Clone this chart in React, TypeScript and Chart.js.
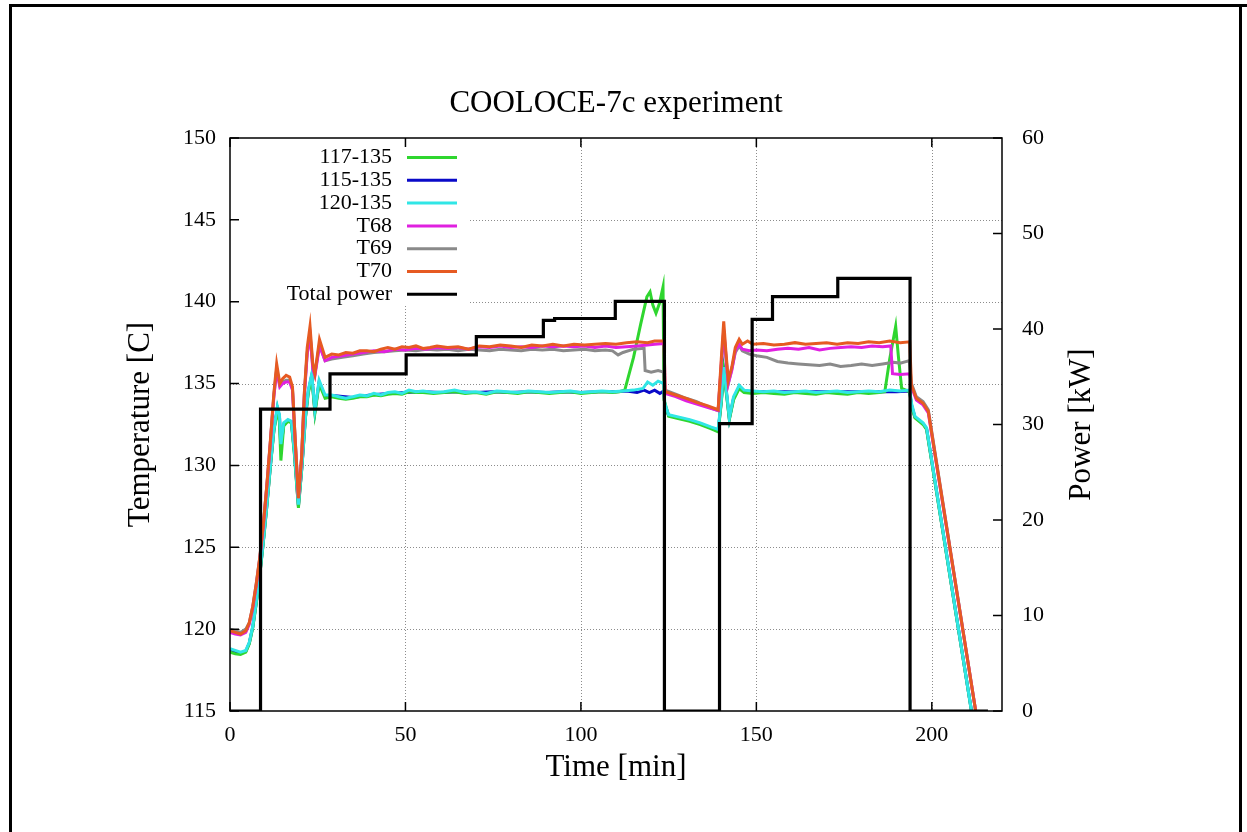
import React, { useEffect, useRef } from "react";
import { Chart, registerables } from "chart.js";

Chart.register(...registerables);

const SERIF = '"Liberation Serif", "Times New Roman", Times, serif';

// Axis ticks
const timeTicks = [0, 50, 100, 150, 200];
const tempTicks = [115, 120, 125, 130, 135, 140, 145, 150];
const powerTicks = [0, 10, 20, 30, 40, 50, 60];

// Legend names and colours (legend order)
const legendNames = ["117-135", "115-135", "120-135", "T68", "T69", "T70", "Total power"];
const legendColors = ["#2fd62f", "#0a0ac8", "#30e6e6", "#e020e0", "#8a8a8a", "#e65a22", "#000000"];

// [time min, temperature C]
const s117_135: number[][] = [[0,118.6],[1.5,118.5],[3,118.45],[4.5,118.6],[5.5,119.1],[6.5,120.1],[7.5,121.6],[8.5,123.3],[9.5,125.3],[10.5,127.5],[11.5,129.9],[12.5,132.1],[13.5,133.4],[14.1,132.6],[14.5,130.3],[15.3,132.4],[16.5,132.7],[17.5,132.6],[18.3,130.8],[19.5,127.4],[20.5,129.9],[21.5,132.9],[22.3,134.4],[23.3,135.4],[24.2,133.2],[25.4,135.0],[27.1,134.1],[29,134.2],[31,134.1],[33,134.05],[35,134.1],[37,134.2],[39,134.2],[41,134.3],[43,134.25],[45,134.35],[47,134.4],[49,134.35],[51,134.5],[53,134.45],[55,134.45],[58,134.4],[61,134.45],[64,134.5],[67,134.4],[70,134.45],[73,134.35],[76,134.5],[79,134.45],[82,134.4],[85,134.5],[88,134.45],[91,134.4],[94,134.45],[97,134.5],[100,134.4],[103,134.45],[106,134.5],[109,134.45],[111,134.5],[112.5,134.6],[115,136.6],[117,138.6],[118.8,140.3],[119.7,140.6],[120.5,139.8],[121.4,139.3],[122.4,139.9],[123.4,140.9],[123.7,134.0],[125,133.0],[128,132.85],[131,132.7],[134,132.5],[137,132.25],[139.1,132.05],[140,133.8],[140.7,135.7],[141.5,134.3],[142.3,132.8],[143.5,134.0],[145.1,134.7],[146.5,134.45],[149,134.4],[152,134.45],[155,134.4],[158,134.35],[161,134.45],[164,134.4],[167,134.35],[170,134.45],[173,134.4],[176,134.35],[179,134.45],[182,134.4],[185,134.45],[186.6,134.5],[188,136.5],[189.7,138.5],[190.5,136.6],[191.4,134.7],[193.7,134.5],[194.2,133.6],[195.2,132.9],[197.5,132.5],[198.5,132.2],[211.3,115.0]];

const s115_135: number[][] = [[0,118.7],[1.5,118.6],[3,118.55],[4.5,118.65],[5.5,119.15],[6.5,120.15],[7.5,121.65],[8.5,123.35],[9.5,125.35],[10.5,127.55],[11.5,129.95],[12.5,132.15],[13.5,133.5],[14.1,133.0],[14.5,131.0],[15.3,132.5],[16.5,132.75],[17.5,132.65],[18.3,130.9],[19.5,127.5],[20.5,129.95],[21.5,132.95],[22.3,134.5],[23.3,135.5],[24.2,133.3],[25.4,135.1],[27.1,134.2],[30,134.25],[35,134.15],[40,134.3],[45,134.4],[50,134.45],[55,134.5],[60,134.45],[65,134.5],[70,134.45],[75,134.5],[80,134.45],[85,134.5],[90,134.45],[95,134.5],[100,134.45],[105,134.5],[110,134.5],[113,134.55],[116,134.45],[118,134.6],[119.5,134.45],[121,134.6],[122.5,134.4],[123.6,134.55],[123.9,133.7],[125,133.05],[128,132.9],[131,132.75],[134,132.55],[137,132.3],[139.1,132.1],[140,133.9],[140.7,135.8],[141.5,134.4],[142.3,132.85],[143.5,134.1],[145.1,134.8],[146.5,134.5],[150,134.5],[160,134.5],[170,134.5],[180,134.5],[190,134.5],[193.7,134.55],[194.2,133.7],[195.2,132.95],[197.5,132.55],[198.5,132.25],[211.3,115.0]];

const s120_135: number[][] = [[0,118.8],[1.5,118.7],[3,118.6],[4.5,118.7],[5.5,119.2],[6.5,120.2],[7.5,121.7],[8.5,123.4],[9.5,125.4],[10.5,127.6],[11.5,130.0],[12.5,132.2],[13.5,133.6],[14.1,133.1],[14.5,131.3],[15.3,132.6],[16.5,132.8],[17.5,132.7],[18.3,131.0],[19.5,127.6],[20.5,130.0],[21.5,133.0],[22.3,134.6],[23.3,135.6],[24.2,133.4],[25.4,135.2],[27.1,134.3],[29,134.3],[31,134.2],[33,134.1],[35,134.2],[37,134.3],[39,134.25],[41,134.4],[43,134.3],[45,134.45],[47,134.5],[49,134.4],[51,134.6],[53,134.5],[55,134.55],[58,134.45],[61,134.5],[64,134.6],[67,134.45],[70,134.5],[73,134.4],[76,134.55],[79,134.5],[82,134.45],[85,134.55],[88,134.5],[91,134.45],[94,134.5],[97,134.55],[100,134.45],[103,134.5],[106,134.55],[109,134.5],[112,134.55],[115,134.6],[117.7,134.7],[119,135.1],[120.5,134.9],[122,135.15],[123.6,135.0],[123.9,133.8],[125,133.1],[128,132.95],[131,132.8],[134,132.6],[137,132.35],[139.1,132.2],[140,134.0],[140.7,136.0],[141.5,134.5],[142.3,132.9],[143.5,134.2],[145.1,134.9],[146.5,134.6],[149,134.55],[152,134.5],[155,134.55],[158,134.45],[161,134.5],[164,134.55],[167,134.45],[170,134.5],[173,134.55],[176,134.45],[179,134.5],[182,134.55],[185,134.5],[188,134.6],[191,134.55],[193.7,134.6],[194.2,133.8],[195.2,133.0],[197.5,132.6],[198.5,132.3],[211.3,115.0]];

const sT68: number[][] = [[0,119.8],[1.5,119.7],[3,119.65],[4.5,119.8],[5.5,120.3],[6.5,121.3],[7.5,122.7],[8.5,124.3],[9.5,126.3],[10.5,128.7],[11.5,131.4],[12.5,134.2],[13.3,135.8],[14.2,134.8],[15,135.0],[16,135.1],[17,135.1],[17.8,134.6],[18.6,131.4],[19.5,128.0],[20.4,130.4],[21.2,134.3],[22,136.8],[22.8,138.0],[23.6,135.9],[24.2,135.5],[25.5,137.3],[27.1,136.4],[29,136.6],[32,136.7],[35,136.8],[38,136.9],[41,137.0],[44,136.95],[47,137.1],[50,137.05],[53,137.15],[56,137.1],[59,137.2],[62,137.15],[65,137.2],[68,137.1],[71,137.25],[74,137.2],[77,137.3],[80,137.2],[83,137.25],[86,137.2],[89,137.3],[92,137.25],[95,137.3],[98,137.25],[101,137.3],[104,137.2],[107,137.3],[110,137.2],[113,137.25],[116,137.3],[119,137.35],[121,137.4],[123.7,137.45],[124,134.4],[127,134.2],[130,133.95],[133,133.75],[136,133.55],[139.1,133.35],[140,136.2],[140.7,138.3],[141.3,136.8],[142,135.0],[143,135.8],[144,137.0],[145.1,137.4],[146,137.1],[148,137.0],[150,137.05],[153,137.0],[156,137.1],[159,137.15],[162,137.1],[165,137.2],[168,137.05],[171,137.15],[174,137.2],[177,137.25],[180,137.2],[183,137.3],[186,137.25],[188.3,137.3],[188.8,135.6],[191,135.55],[193.7,135.6],[194.2,134.8],[195.6,134.0],[197.5,133.7],[199,133.2],[212.5,115.0]];

const sT69: number[][] = [[0,120.0],[1.5,119.9],[3,119.8],[4.5,120.0],[5.5,120.4],[6.5,121.4],[7.5,122.8],[8.5,124.4],[9.5,126.4],[10.5,128.8],[11.5,131.4],[12.5,134.3],[13.3,135.9],[14.2,134.9],[15,135.1],[16,135.2],[17,135.2],[17.8,134.7],[18.6,131.5],[19.5,128.1],[20.4,130.5],[21.2,134.4],[22,136.9],[22.8,138.1],[23.6,136.0],[24.2,135.6],[25.5,137.4],[27.1,136.4],[29,136.5],[32,136.6],[35,136.7],[38,136.8],[41,136.9],[44,136.95],[47,137.0],[50,137.05],[53,137.0],[56,137.1],[59,137.05],[62,137.1],[65,137.0],[68,137.1],[71,137.05],[74,137.0],[77,137.1],[80,137.05],[83,137.0],[86,137.1],[89,137.05],[92,137.1],[95,137.0],[98,137.05],[101,137.1],[104,137.0],[107,137.05],[109,137.0],[110.6,136.75],[112,136.9],[115,137.1],[118,137.15],[118.3,135.8],[120,135.7],[122,135.8],[123.6,135.7],[124,134.6],[127,134.35],[130,134.1],[133,133.9],[136,133.6],[139.1,133.35],[140,136.0],[140.7,138.2],[141.3,136.6],[142,135.0],[143,135.9],[144,136.9],[145.1,137.3],[146,137.0],[148,136.8],[150,136.7],[153,136.6],[156,136.35],[159,136.25],[162,136.2],[165,136.15],[168,136.1],[171,136.2],[174,136.05],[177,136.1],[180,136.2],[183,136.1],[186,136.2],[189,136.3],[191,136.25],[193.6,136.4],[194.2,135.0],[195.6,134.2],[197.5,133.9],[199,133.4],[212.5,115.0]];

const sT70: number[][] = [[0,119.9],[1.5,119.8],[3,119.7],[4.5,119.9],[5.5,120.4],[6.5,121.4],[7.5,122.8],[8.5,124.4],[9.5,126.4],[10.5,128.8],[11.5,131.5],[12.5,134.4],[13.3,136.2],[14.2,135.0],[15,135.3],[16,135.5],[17,135.4],[17.8,134.8],[18.6,131.5],[19.5,128.0],[20.4,130.5],[21.2,134.5],[22,137.2],[22.8,138.5],[23.6,136.2],[24.2,135.6],[25.5,137.7],[27.1,136.6],[29,136.8],[31,136.75],[33,136.9],[35,136.85],[37,137.0],[39,137.0],[41,136.95],[43,137.1],[45,137.2],[47,137.1],[49,137.25],[51,137.2],[53,137.3],[55,137.15],[57,137.2],[59,137.3],[62,137.2],[65,137.25],[68,137.1],[71,137.3],[74,137.25],[77,137.35],[80,137.3],[83,137.2],[86,137.35],[89,137.3],[92,137.4],[95,137.3],[98,137.4],[101,137.35],[104,137.4],[107,137.45],[110,137.4],[113,137.5],[116,137.55],[119,137.5],[121,137.6],[123.7,137.6],[124,134.5],[127,134.3],[130,134.1],[133,133.85],[136,133.65],[139.1,133.4],[140,136.5],[140.7,138.8],[141.3,137.0],[142,135.2],[143,136.0],[144,137.2],[145.1,137.7],[146,137.4],[147.5,137.6],[149,137.4],[152,137.45],[155,137.35],[158,137.4],[161,137.5],[164,137.4],[167,137.45],[170,137.5],[173,137.4],[176,137.5],[179,137.45],[182,137.55],[185,137.5],[188,137.6],[191,137.5],[193.7,137.55],[194.2,134.9],[195.6,134.1],[197.5,133.8],[199,133.3],[212.5,115.0]];

// [time min, power kW] step start points
const powerSteps: number[][] = [[0,0],[8.7,31.6],[28.5,35.3],[50.2,37.3],[70.2,39.2],[89.3,40.9],[92.5,41.1],[109.8,42.9],[123.8,0],[139.5,30.1],[148.8,41.0],[154.6,43.4],[173.2,45.3],[193.8,0],[216,0]];

const toPts = (arr: number[][]) => arr.map(([x, y]) => ({ x, y }));

export default function App() {
  const ref = useRef<HTMLCanvasElement>(null);

  useEffect(() => {
    document.body.style.margin = "0";
    const canvas = ref.current;
    if (!canvas) return;

    const gnuplotLook = {
      id: "gnuplotLook",
      beforeDraw(chart: any) {
        const ctx = chart.ctx;
        ctx.save();
        ctx.fillStyle = "#ffffff";
        ctx.fillRect(0, 0, chart.width, chart.height);
        ctx.fillStyle = "#000000";
        ctx.fillRect(9, 4, 3, chart.height - 4);
        ctx.fillRect(9, 4, chart.width - 9, 3);
        ctx.fillRect(1239, 4, 3, chart.height - 4);
        ctx.restore();
      },
      beforeDatasetsDraw(chart: any) {
        const ctx = chart.ctx;
        const { left, right, top, bottom } = chart.chartArea;
        const xs = chart.scales.x;
        const ys = chart.scales.y;
        ctx.save();
        ctx.strokeStyle = "#8c8c8c";
        ctx.lineWidth = 1;
        ctx.setLineDash([1, 2]);
        timeTicks.forEach((v) => {
          if (v <= 0) return;
          const px = Math.round(xs.getPixelForValue(v)) + 0.5;
          ctx.beginPath();
          ctx.moveTo(px, top);
          ctx.lineTo(px, bottom);
          ctx.stroke();
        });
        tempTicks.forEach((v) => {
          if (v <= 115 || v >= 150) return;
          const py = Math.round(ys.getPixelForValue(v)) + 0.5;
          ctx.beginPath();
          ctx.moveTo(left, py);
          ctx.lineTo(right, py);
          ctx.stroke();
        });
        ctx.setLineDash([]);
        // legend box (opaque, like gnuplot key)
        ctx.fillStyle = "#ffffff";
        ctx.fillRect(left + 1, top + 1, 238, 166);
        ctx.font = `22px ${SERIF}`;
        ctx.textAlign = "right";
        ctx.textBaseline = "middle";
        legendNames.forEach((name, i) => {
          const y = top + 19.5 + i * 22.8;
          ctx.fillStyle = "#000";
          ctx.fillText(name, left + 162, y);
          ctx.strokeStyle = legendColors[i];
          ctx.lineWidth = 3;
          ctx.beginPath();
          ctx.moveTo(left + 177, y);
          ctx.lineTo(left + 227, y);
          ctx.stroke();
        });
        ctx.restore();
      },
      afterDatasetsDraw(chart: any) {
        const ctx = chart.ctx;
        const { left, right, top, bottom } = chart.chartArea;
        const xs = chart.scales.x;
        const ys = chart.scales.y;
        const y2 = chart.scales.y2;
        ctx.save();
        ctx.strokeStyle = "#000";
        ctx.lineWidth = 1.5;
        ctx.strokeRect(left, top, right - left, bottom - top);
        ctx.beginPath();
        tempTicks.forEach((v) => {
          const py = ys.getPixelForValue(v);
          ctx.moveTo(left, py);
          ctx.lineTo(left + 9, py);
        });
        powerTicks.forEach((v) => {
          const py = y2.getPixelForValue(v);
          ctx.moveTo(right - 9, py);
          ctx.lineTo(right, py);
        });
        timeTicks.forEach((v) => {
          const px = xs.getPixelForValue(v);
          ctx.moveTo(px, bottom);
          ctx.lineTo(px, bottom - 9);
          ctx.moveTo(px, top);
          ctx.lineTo(px, top + 9);
        });
        ctx.stroke();
        ctx.restore();
      },
      afterDraw(chart: any) {
        const ctx = chart.ctx;
        const { left, right, top, bottom } = chart.chartArea;
        const cx = (left + right) / 2;
        const cy = (top + bottom) / 2;
        ctx.save();
        ctx.fillStyle = "#000";
        ctx.font = `31px ${SERIF}`;
        ctx.textAlign = "center";
        ctx.textBaseline = "alphabetic";
        ctx.fillText("COOLOCE-7c experiment", cx, 112);
        ctx.fillText("Time [min]", cx, 776);
        ctx.textBaseline = "middle";
        ctx.save();
        ctx.translate(141, cy);
        ctx.rotate(-Math.PI / 2);
        ctx.fillText("Temperature [C]", 0, 0);
        ctx.restore();
        ctx.save();
        ctx.translate(1082, cy);
        ctx.rotate(-Math.PI / 2);
        ctx.fillText("Power [kW]", 0, 0);
        ctx.restore();
        ctx.restore();
      },
    };

    const lineDs = (label: string, data: number[][], color: string, width: number, axis = "y") => ({
      label,
      data: toPts(data),
      borderColor: color,
      backgroundColor: color,
      borderWidth: width,
      pointRadius: 0,
      tension: 0,
      fill: false,
      yAxisID: axis,
    });

    const tickFont = { family: SERIF, size: 22 };

    const chart = new Chart(canvas, {
      type: "line",
      data: {
        datasets: [
          { ...lineDs("Total power", powerSteps, legendColors[6], 3.2, "y2"), stepped: "before" },
          lineDs("T70", sT70, legendColors[5], 3),
          lineDs("T68", sT68, legendColors[3], 3),
          lineDs("T69", sT69, legendColors[4], 3),
          lineDs("120-135", s120_135, legendColors[2], 3),
          lineDs("117-135", s117_135, legendColors[0], 3),
          lineDs("115-135", s115_135, legendColors[1], 3),
        ] as any,
      },
      options: {
        responsive: false,
        animation: false,
        layout: { padding: { top: 138, left: 0, right: 0, bottom: 0 } },
        plugins: {
          legend: { display: false },
          tooltip: { enabled: false },
          title: { display: false },
        },
        scales: {
          x: {
            type: "linear",
            position: "bottom",
            min: 0,
            max: 220,
            afterBuildTicks: (s: any) => {
              s.ticks = timeTicks.map((v) => ({ value: v }));
            },
            afterFit: (s: any) => {
              s.height = 121;
            },
            grid: { display: false, drawTicks: false },
            border: { display: false },
            ticks: { font: tickFont, color: "#000", padding: 11, maxRotation: 0, autoSkip: false },
          },
          y: {
            type: "linear",
            position: "left",
            min: 115,
            max: 150,
            afterBuildTicks: (s: any) => {
              s.ticks = tempTicks.map((v) => ({ value: v }));
            },
            afterFit: (s: any) => {
              s.width = 230;
            },
            grid: { display: false, drawTicks: false },
            border: { display: false },
            ticks: { font: tickFont, color: "#000", padding: 14, autoSkip: false },
          },
          y2: {
            type: "linear",
            position: "right",
            min: 0,
            max: 60,
            afterBuildTicks: (s: any) => {
              s.ticks = powerTicks.map((v) => ({ value: v }));
            },
            afterFit: (s: any) => {
              s.width = 245;
            },
            grid: { display: false, drawTicks: false },
            border: { display: false },
            ticks: { font: tickFont, color: "#000", padding: 20, autoSkip: false },
          },
        },
      } as any,
      plugins: [gnuplotLook],
    });

    return () => chart.destroy();
  }, []);

  return (
    <div style={{ position: "fixed", left: 0, top: 0, width: 1247, height: 832, background: "#fff" }}>
      <canvas ref={ref} width={1247} height={832} style={{ display: "block", width: 1247, height: 832 }} />
    </div>
  );
}
